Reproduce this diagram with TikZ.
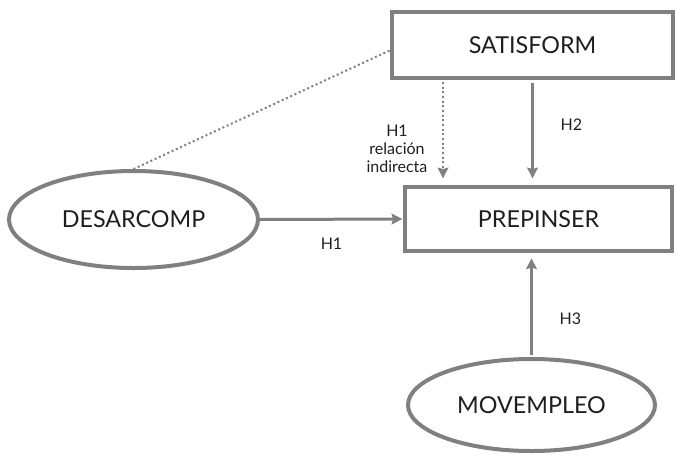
\documentclass[tikz,border=0pt]{standalone}
\usepackage{fontspec}
\setmainfont{Lato}
\usetikzlibrary{shapes.geometric, arrows.meta}
\definecolor{linegray}{RGB}{128,128,128}
\definecolor{textgray}{RGB}{30,30,30}

\begin{document}
\begin{tikzpicture}[x = 0.75pt, y = -0.75pt,
        box/.style = {draw = linegray, line width = 3pt, rectangle, text = textgray, font = \fontsize{17.5}{20}\selectfont},
        blob/.style = {draw = linegray, line width = 3pt, ellipse, inner sep = 0pt, text = textgray, font = \fontsize{17.5}{20}\selectfont},
        link/.style = {draw = linegray, line width = 2.25pt, -{Stealth[length = 8pt, width = 8pt, inset = 1pt]}},
        hyp/.style = {text = textgray, align = center, inner sep = 0pt, font = \fontsize{12}{13.5}\selectfont}]
        \useasboundingbox (0, 0) rectangle (676, 455);
        \node [box, minimum width = 210.75pt, minimum height = 49.5pt] (satis) at (532.5, 45) {SATISFORM};
        \node [box, minimum width = 200.25pt, minimum height = 48pt] (prep) at (538.5, 219) {PREPINSER};
        \node [blob, minimum width = 186.75pt, minimum height = 72.75pt] (desarc) at (133.5, 219.5) {DESARCOMP};
        \node [blob, minimum width = 185.25pt, minimum height = 69pt] (movemp) at (531.5, 405) {MOVEMPLEO};
        \coordinate (indir) at (443, 0);
        \draw [draw = linegray, line width = 1.5pt, dash pattern = on 1.5pt off 2pt] (desarc.north) -- ([yshift = -4pt] satis.west);
        \draw [link, dash pattern = on 1.5pt off 2pt, line width = 1.5pt, shorten < = 1.5pt, shorten > = 5pt] (indir |- satis.south) -- (indir |- prep.north);
        \draw [link, shorten < = 2pt, shorten > = 5pt] (satis.south) -- (satis.south |- prep.north) node [hyp, pos = 0.43, right = 20pt] {H2};
        \draw [link, shorten > = 0.5pt] (desarc.east) -- (prep.west) node [hyp, midway, below = 13pt] {H1};
        \draw [link, shorten < = 1.5pt, shorten > = 4pt] (movemp.north) -- (movemp.north |- prep.south) node [hyp, pos = 0.37, right = 20pt] {H3};
        \node [hyp] (indlabel) at (397, 149) {H1\\relación\\indirecta};
    \end{tikzpicture}
\end{document}
